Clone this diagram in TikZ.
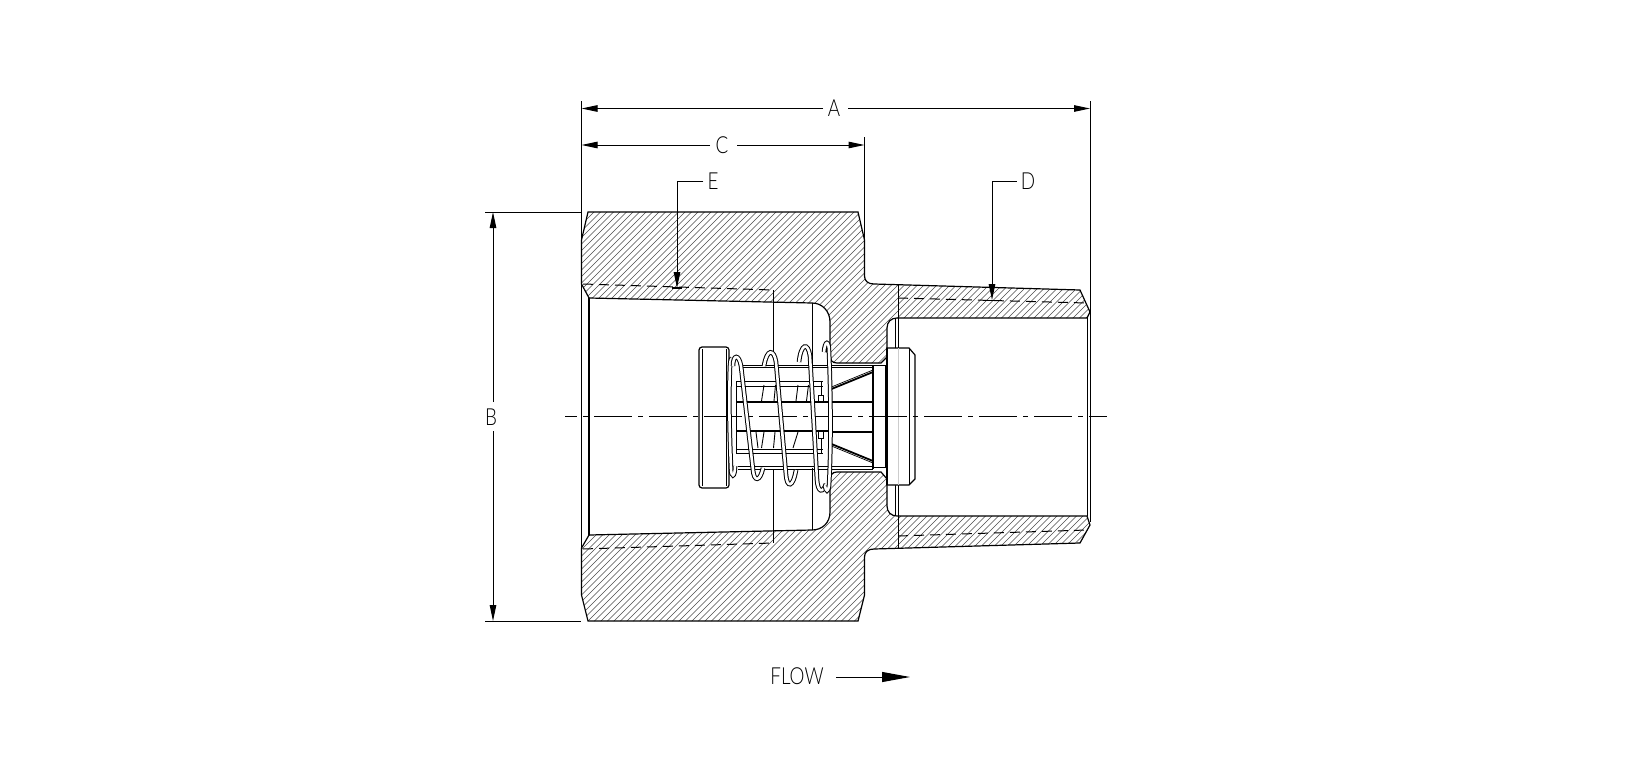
\documentclass[tikz,border=0pt]{standalone}
\usepackage{fontspec}
\setmainfont{Lato}[UprightFont=* Light,FakeStretch=0.8]
\usetikzlibrary{arrows.meta}
\tikzset{
  x=1pt,y=-1pt,
  outline/.style={black,line width=1.2pt},
  thin line/.style={black,line width=0.9pt},
  fine line/.style={black,line width=0.7pt},
  heavy/.style={black,line width=1.8pt},
  hatch/.style={black!70,line width=0.55pt},
  thread/.style={black,line width=1pt,dash pattern=on 10pt off 6pt},
  center line/.style={black,line width=0.9pt,dash pattern=on 38pt off 6pt on 5pt off 6pt,dash phase=26pt},
  dimension/.style={black,line width=1pt,-{Triangle[length=16pt,width=6.5pt]}},
  extension/.style={black,line width=1pt},
  label text/.style={font=\fontsize{23.5}{24}\selectfont,inner sep=0pt,text=black},
  wire/.style={double=white,double distance=2.6pt,line width=1pt,black},
}
\begin{document}
\begin{tikzpicture}
\useasboundingbox[fill=white] (0,0) rectangle (1643,776);
% named points
\coordinate (aL) at (581.5,108.5); \coordinate (aR) at (1090,108.5);
\coordinate (cL) at (581.5,145); \coordinate (cR) at (864.5,145);
\coordinate (bT) at (493,212); \coordinate (bB) at (493,621);
\coordinate (eTip) at (677,288); \coordinate (eK) at (677,181);
\coordinate (dTip) at (992,300); \coordinate (dK) at (992,181);
\coordinate (fEnd) at (910,677);
% hatching: upper and lower halves of the body
\def\upperbody{(588,212) -- (858,212) -- (864.5,240) -- (864.5,276)
  .. controls (864.5,281) and (868,284) .. (874,284) -- (1080,290) -- (1090,312) -- (1087,318)
  -- (897,318) .. controls (891,318) and (887,322) .. (887,328) -- (887,357) -- (881,363) -- (837,363)
  .. controls (832,363) and (830,360) .. (830,355) -- (830,322)
  .. controls (830,311) and (822,303) .. (812,303) -- (589,298) -- (581.5,284) -- (581.5,240) -- cycle}
\def\lowerbody{(588,621) -- (858,621) -- (864.5,595) -- (864.5,557)
  .. controls (864.5,552) and (868,549) .. (874,549) -- (1080,543) -- (1090,525) -- (1087,516)
  -- (897,516) .. controls (891,516) and (887,512) .. (887,506) -- (887,479) -- (881,472) -- (837,472)
  .. controls (832,472) and (830,475) .. (830,480) -- (830,512)
  .. controls (830,523) and (822,530) .. (812,530) -- (589,535) -- (581.5,548) -- (581.5,595) -- cycle}
\begin{scope}
  \clip \upperbody \lowerbody;
  \foreach \c in {150,156.5,...,1100} \draw[hatch] (\c,630) -- (\c+425,205);
\end{scope}
\draw[outline] \upperbody;
\draw[outline] \lowerbody;
% threads
\draw[thread] (583,284) -- (773,290);
\draw[thread] (583,549) -- (773,543);
\draw[thread] (898,298) -- (1087,303);
\draw[thread] (898,536) -- (1087,530);
% vertical edges
\draw[outline] (589,298) -- (589,535);
\draw[outline] (581.5,284) -- (581.5,548);
\draw[thin line] (1087,318) -- (1087,516);
\draw[thin line] (1090,312) -- (1090,522);
\draw[thin line] (898,284) -- (898,348) (898,485) -- (898,549);
\draw[thin line] (895,318) -- (895,348) (895,485) -- (895,516);
\draw[thin line] (812,303) -- (812,365) (812,468) -- (812,530);
\draw[thin line] (773,290) -- (773,352) (773,469) -- (773,543);
% disc
\draw[outline,fill=white,rounded corners=3pt] (699,347) rectangle (729,488);
\draw[thin line] (702.5,349) -- (702.5,486) (726,349) -- (726,486);
% stem
\draw[fine line] (743,365) -- (873,365) (743,367.5) -- (873,367.5);
\draw[fine line] (738,466.5) -- (873,466.5) (738,469) -- (873,469);
\draw[thin line] (736,381) -- (823,381) (736,386) -- (823,386);
\draw[thin line] (736,449) -- (823,449) (736,453) -- (823,453);
\draw[outline] (736,402) -- (830,402) (736,431) -- (830,431);
\draw[thin line] (736,381) -- (736,453);
\draw[thin line] (764,385) -- (761.5,401) (775.5,385) -- (774,401) (798,385) -- (796,401) (808.5,385) -- (806.5,401);
\draw[thin line] (764,432) -- (761.5,448) (756,432) -- (758,448) (775,432) -- (773.5,448) (798,432) -- (793,448);
\draw[thin line] (818,395) rectangle (823,402) (818,431) rectangle (823,438);
\draw[thin line] (821.5,381) -- (821.5,395) (821.5,438) -- (821.5,453);
% plug
\draw[heavy] (829,402) -- (873,402) (829,432) -- (873,432);
\draw[heavy] (829,390) -- (873,372) (829,443) -- (873,461);
\draw[fine line] (829,388) -- (873,370) (829,445) -- (873,463);
\draw[outline] (873,365) -- (873,469);
\draw[thin line] (873,365) -- (885,365) -- (885,467) -- (873,467);
% head
\draw[outline,fill=white] (887,348) -- (909,348) -- (915,355) -- (915,479) -- (909,485) -- (887,485) -- cycle;
\draw[heavy] (887,348) -- (887,485) (909.5,348) -- (909.5,485);
\draw[black!20,line width=0.7pt] (898,348) -- (898,485);
% centre line
\draw[center line] (565,416.5) -- (1107,416.5);
% spring
\draw[wire] (735,466) .. controls (735,478) and (731,478) .. (731,468) .. controls (729,420) and (729,390) .. (730,366) .. controls (730.5,360) and (731,358) .. (732,358);
\draw[wire] (733,366) .. controls (733,354) and (739,354) .. (741,366) -- (753,470) .. controls (754,482) and (760,482) .. (763,468);
\draw[wire] (764,366) .. controls (767,348) and (774,349) .. (776,362) -- (786,475) .. controls (787,488) and (793,488) .. (796,470);
\draw[wire] (799,362) .. controls (801,343) and (808,342) .. (810,356) -- (817,480) .. controls (818,493) and (823,493) .. (826,484);
\draw[wire] (824,352) .. controls (825,340) and (829,340) .. (829,352) .. controls (831,400) and (831,450) .. (829,486) .. controls (828,492) and (826,492) .. (825,486);
% labels
\node[label text] (A) at (834,108) {A};
\node[label text] (C) at (722,145) {C};
\node[label text] (B) at (491,417) {B};
\node[label text] (E) at (713,181) {E};
\node[label text] (D) at (1028,181) {D};
\node[label text] (F) at (797,676) {FLOW};
% dimensions
\draw[extension] (581.5,101) -- (581.5,284);
\draw[extension] (1090,101) -- (1090,312);
\draw[extension] (864.5,137) -- (864.5,240);
\draw[extension] (485,212) -- (581,212);
\draw[extension] (485,621) -- (581,621);
\draw[dimension] (823,108.5) -- (aL);
\draw[dimension] (848,108.5) -- (aR);
\draw[dimension] (710,145) -- (cL);
\draw[dimension] (737,145) -- (cR);
\draw[dimension] (493,402) -- (bT);
\draw[dimension] (493,431) -- (bB);
\draw[dimension] (E.west) ++(-4,0) -- (eK) -- (eTip);
\draw[dimension] (D.west) ++(-4,0) -- (dK) -- (dTip);
\draw[outline] (672,288) -- (682,288);
\draw[outline] (986,300.5) -- (998,300.5);
\draw[black,line width=1pt,-{Triangle[length=28pt,width=10pt]}] (836,677) -- (fEnd);
\end{tikzpicture}
\end{document}
